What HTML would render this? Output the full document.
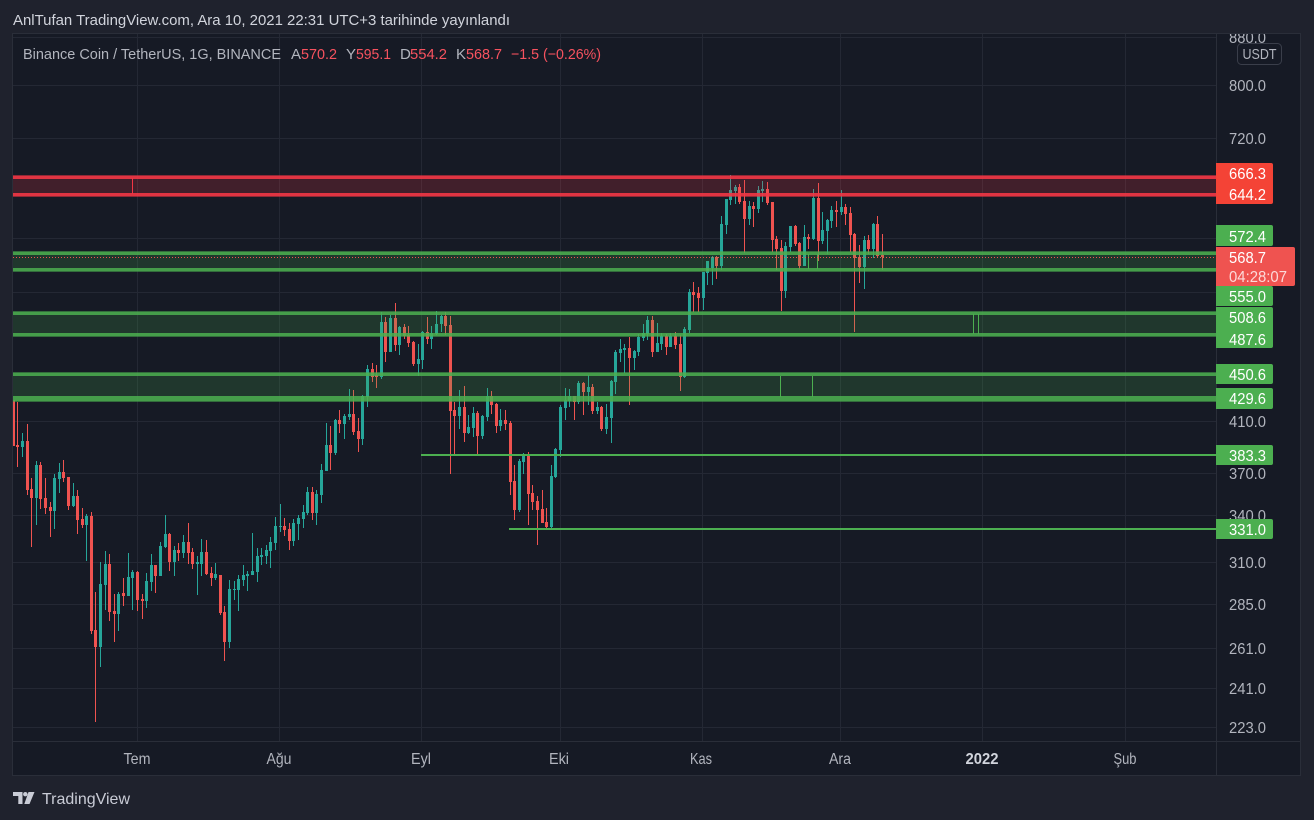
<!DOCTYPE html>
<html><head><meta charset="utf-8"><style>
html,body{margin:0;padding:0;background:#1f222d;width:1314px;height:820px;overflow:hidden}
svg{display:block}
text{font-family:"Liberation Sans",sans-serif}
</style></head><body>
<svg id="s" width="1314" height="820" viewBox="0 0 1314 820" xmlns="http://www.w3.org/2000/svg">
<defs>
<clipPath id="c"><rect x="13" y="34" width="1203" height="707"/></clipPath>
<clipPath id="ax"><rect x="1217" y="34" width="83" height="707"/></clipPath>
</defs>
<rect width="1314" height="820" fill="#1f222d"/>
<rect x="12" y="33" width="1289" height="743" fill="#161a25"/>
<g stroke="#242834" stroke-width="1" shape-rendering="crispEdges">
<path d="M13 37.5H1216M13 85.5H1216M13 138.5H1216M13 238.5H1216M13 292.5H1216M13 421.5H1216M13 473.5H1216M13 515.5H1216M13 562.5H1216M13 604.5H1216M13 648.5H1216M13 688.5H1216M13 727.5H1216"/>
<path d="M137.5 34V741M279.5 34V741M421.5 34V741M560.5 34V741M702.5 34V741M840.5 34V741M982.5 34V741M1125.5 34V741"/>
</g>
<g id="candles" clip-path="url(#c)" shape-rendering="crispEdges"></g>
<g clip-path="url(#c)" shape-rendering="crispEdges">
<!-- red band -->
<rect x="13" y="175" width="1203" height="22" fill="rgba(242,54,69,0.2)"/>
<rect x="13" y="175" width="1203" height="1" fill="rgba(242,54,69,0.45)"/>
<rect x="13" y="196" width="1203" height="1" fill="rgba(242,54,69,0.45)"/>
<rect x="13" y="176" width="1203" height="3" fill="#f23645" fill-opacity="0.9"/>
<rect x="13" y="193" width="1203" height="3" fill="#f23645" fill-opacity="0.9"/>
<rect x="132" y="178" width="1" height="16" fill="#f23645"/>
<!-- green band 1 -->
<rect x="13" y="251" width="1203" height="21" fill="rgba(76,175,80,0.2)"/>
<rect x="13" y="251" width="1203" height="1" fill="rgba(76,175,80,0.45)"/>
<rect x="13" y="271" width="1203" height="1" fill="rgba(76,175,80,0.45)"/>
<rect x="13" y="252" width="1203" height="3" fill="#4caf50" fill-opacity="0.85"/>
<rect x="13" y="268" width="1203" height="3" fill="#4caf50" fill-opacity="0.85"/>
<rect x="808" y="254" width="1" height="15" fill="#4caf50"/>
<rect x="817" y="254" width="1" height="15" fill="#4caf50"/>
<!-- green band 2 -->
<rect x="13" y="311" width="1203" height="26" fill="rgba(76,175,80,0.2)"/>
<rect x="13" y="311" width="1203" height="1" fill="rgba(76,175,80,0.45)"/>
<rect x="13" y="336" width="1203" height="1" fill="rgba(76,175,80,0.45)"/>
<rect x="13" y="312" width="1203" height="3" fill="#4caf50" fill-opacity="0.85"/>
<rect x="13" y="333" width="1203" height="3" fill="#4caf50" fill-opacity="0.85"/>
<rect x="973" y="314" width="1" height="20" fill="#4caf50"/>
<rect x="978" y="314" width="1" height="20" fill="#4caf50"/>
<!-- green band 3 -->
<rect x="13" y="372" width="1203" height="30" fill="rgba(76,175,80,0.2)"/>
<rect x="13" y="372" width="1203" height="1" fill="rgba(76,175,80,0.45)"/>
<rect x="13" y="401" width="1203" height="1" fill="rgba(76,175,80,0.45)"/>
<rect x="13" y="373" width="1203" height="3" fill="#4caf50" fill-opacity="0.85"/>
<rect x="13" y="396" width="1203" height="5" fill="#4caf50" fill-opacity="0.85"/>
<rect x="780" y="376" width="1" height="21" fill="#4caf50"/>
<rect x="812" y="376" width="1" height="21" fill="#4caf50"/>
<!-- horizontal lines -->
<rect x="421" y="454" width="795" height="2" fill="#4caf50"/>
<rect x="509" y="528" width="707" height="2" fill="#4caf50"/>
<line x1="13" y1="257.5" x2="1216" y2="257.5" stroke="#ef5350" stroke-width="1" stroke-dasharray="1 2"/>
</g>
<!-- borders -->
<g stroke="#2a2e39" stroke-width="1" fill="none" shape-rendering="crispEdges">
<rect x="12.5" y="33.5" width="1288" height="742"/>
<path d="M1216.5 33V776M12 741.5H1301"/>
</g>
<!-- price ticks -->
<g fill="#b2b5be" font-size="16" clip-path="url(#ax)">
<text x="1229" y="43" textLength="37" lengthAdjust="spacingAndGlyphs">880.0</text>
<text x="1229" y="91" textLength="37" lengthAdjust="spacingAndGlyphs">800.0</text>
<text x="1229" y="144" textLength="37" lengthAdjust="spacingAndGlyphs">720.0</text>
<text x="1229" y="427" textLength="37" lengthAdjust="spacingAndGlyphs">410.0</text>
<text x="1229" y="479" textLength="37" lengthAdjust="spacingAndGlyphs">370.0</text>
<text x="1229" y="521" textLength="37" lengthAdjust="spacingAndGlyphs">340.0</text>
<text x="1229" y="568" textLength="37" lengthAdjust="spacingAndGlyphs">310.0</text>
<text x="1229" y="610" textLength="37" lengthAdjust="spacingAndGlyphs">285.0</text>
<text x="1229" y="654" textLength="37" lengthAdjust="spacingAndGlyphs">261.0</text>
<text x="1229" y="694" textLength="37" lengthAdjust="spacingAndGlyphs">241.0</text>
<text x="1229" y="733" textLength="37" lengthAdjust="spacingAndGlyphs">223.0</text>
</g>
<rect x="1237.5" y="43.5" width="44" height="21" rx="4" fill="#161a25" stroke="#3a3e4a"/>
<text x="1259.5" y="59" fill="#b2b5be" font-size="15" text-anchor="middle" textLength="34" lengthAdjust="spacingAndGlyphs">USDT</text>
<!-- price labels -->
<g font-size="16" fill="#ffffff">
<path d="M1216 163h55a2 2 0 0 1 2 2v37a2 2 0 0 1-2 2h-55z" fill="#f44336"/>
<text x="1229" y="179" textLength="37" lengthAdjust="spacingAndGlyphs">666.3</text>
<text x="1229" y="200" textLength="37" lengthAdjust="spacingAndGlyphs">644.2</text>
<path d="M1216 225h55a2 2 0 0 1 2 2v17a2 2 0 0 1-2 2h-55z" fill="#4caf50"/>
<text x="1229" y="242" textLength="37" lengthAdjust="spacingAndGlyphs">572.4</text>
<path d="M1216 286h55a2 2 0 0 1 2 2v16a2 2 0 0 1-2 2h-55z" fill="#4caf50"/>
<text x="1229" y="302" textLength="37" lengthAdjust="spacingAndGlyphs">555.0</text>
<path d="M1216 247h77a2 2 0 0 1 2 2v35a2 2 0 0 1-2 2h-77z" fill="#ef5350"/>
<text x="1229" y="263" textLength="37" lengthAdjust="spacingAndGlyphs">568.7</text>
<text x="1229" y="282" textLength="58" lengthAdjust="spacingAndGlyphs" fill-opacity="0.78">04:28:07</text>
<path d="M1216 307h55a2 2 0 0 1 2 2v37a2 2 0 0 1-2 2h-55z" fill="#4caf50"/>
<text x="1229" y="323" textLength="37" lengthAdjust="spacingAndGlyphs">508.6</text>
<text x="1229" y="345" textLength="37" lengthAdjust="spacingAndGlyphs">487.6</text>
<path d="M1216 364h55a2 2 0 0 1 2 2v16a2 2 0 0 1-2 2h-55z" fill="#4caf50"/>
<text x="1229" y="380" textLength="37" lengthAdjust="spacingAndGlyphs">450.6</text>
<path d="M1216 388h55a2 2 0 0 1 2 2v17a2 2 0 0 1-2 2h-55z" fill="#4caf50"/>
<text x="1229" y="404" textLength="37" lengthAdjust="spacingAndGlyphs">429.6</text>
<path d="M1216 445h55a2 2 0 0 1 2 2v16a2 2 0 0 1-2 2h-55z" fill="#4caf50"/>
<text x="1229" y="461" textLength="37" lengthAdjust="spacingAndGlyphs">383.3</text>
<path d="M1216 519h55a2 2 0 0 1 2 2v16a2 2 0 0 1-2 2h-55z" fill="#4caf50"/>
<text x="1229" y="535" textLength="37" lengthAdjust="spacingAndGlyphs">331.0</text>
</g>
<!-- time axis -->
<g fill="#b2b5be" font-size="16" text-anchor="middle">
<text x="137" y="764" textLength="27" lengthAdjust="spacingAndGlyphs">Tem</text>
<text x="279" y="764" textLength="25" lengthAdjust="spacingAndGlyphs">Ağu</text>
<text x="421" y="764" textLength="20" lengthAdjust="spacingAndGlyphs">Eyl</text>
<text x="559" y="764" textLength="20" lengthAdjust="spacingAndGlyphs">Eki</text>
<text x="701" y="764" textLength="22" lengthAdjust="spacingAndGlyphs">Kas</text>
<text x="840" y="764" textLength="22" lengthAdjust="spacingAndGlyphs">Ara</text>
<text x="982" y="764" textLength="33" lengthAdjust="spacingAndGlyphs" font-weight="bold" fill="#d1d4dc">2022</text>
<text x="1125" y="764" textLength="23" lengthAdjust="spacingAndGlyphs">Şub</text>
</g>
<!-- header -->
<text x="13" y="25" fill="#d1d4dc" font-size="15" textLength="497" lengthAdjust="spacingAndGlyphs">AnlTufan TradingView.com, Ara 10, 2021 22:31 UTC+3 tarihinde yayınlandı</text>
<g font-size="15">
<text x="23" y="59" fill="#b2b5be" textLength="258" lengthAdjust="spacingAndGlyphs">Binance Coin / TetherUS, 1G, BINANCE</text>
<text x="291" y="59" fill="#b2b5be">A</text>
<text x="301" y="59" fill="#f7525f" textLength="36" lengthAdjust="spacingAndGlyphs">570.2</text>
<text x="346" y="59" fill="#b2b5be">Y</text>
<text x="356" y="59" fill="#f7525f" textLength="35" lengthAdjust="spacingAndGlyphs">595.1</text>
<text x="400" y="59" fill="#b2b5be">D</text>
<text x="410" y="59" fill="#f7525f" textLength="37" lengthAdjust="spacingAndGlyphs">554.2</text>
<text x="456" y="59" fill="#b2b5be">K</text>
<text x="466" y="59" fill="#f7525f" textLength="36" lengthAdjust="spacingAndGlyphs">568.7</text>
<text x="511" y="59" fill="#f7525f" textLength="90" lengthAdjust="spacingAndGlyphs">−1.5 (−0.26%)</text>
</g>
<!-- footer logo -->
<g fill="#c9ccd6">
<path d="M13 792h9.5v12h-4.2v-8h-5.3z"/>
<circle cx="25.3" cy="794.2" r="2.2"/>
<path d="M28.5 792h6l-5 12h-5.2z"/>
<text x="42" y="804" font-size="16" textLength="88" lengthAdjust="spacingAndGlyphs">TradingView</text>
</g>
</svg>
<script>
const D="r 400 446 400 446|r 445 447 402 467|g 441 447 433 457|r 441 490 424 495|r 489 498 478 547|g 465 498 461 525|r 465 499 462 509|r 498 508 478 514|r 507 511 502 537|g 478 511 474 529|g 472 479 463 493|r 472 478 460 482|r 477 506 477 510|g 496 506 483 507|r 496 520 490 534|r 519 525 508 528|g 516 525 514 561|r 516 631 512 634|r 630 647 592 722|g 584 647 562 667|g 564 585 551 610|r 564 612 554 621|r 611 614 594 642|g 594 614 592 631|r 593 596 578 606|g 577 596 553 596|g 572 578 570 610|r 572 600 571 611|r 599 601 594 619|g 581 601 573 608|g 565 582 554 591|r 565 576 565 593|g 546 576 542 576|g 534 547 515 548|r 534 562 533 571|g 550 562 546 576|r 550 553 543 561|g 542 553 535 558|r 542 553 523 564|r 552 564 548 569|g 562 564 556 595|g 552 564 539 576|r 552 574 540 575|r 573 578 567 586|g 574 578 563 580|r 575 613 575 615|r 612 642 606 661|g 589 642 580 648|g 589 590 581 600|g 579 590 575 611|g 575 580 565 586|g 574 576 571 591|g 571 575 533 575|g 556 572 548 582|g 555 557 548 565|g 550 556 545 564|g 542 551 537 568|g 526 543 517 550|g 526 527 504 532|r 526 530 518 536|r 529 541 523 550|g 523 541 519 546|g 518 524 515 540|g 512 519 505 528|g 492 513 487 515|r 492 513 487 520|g 494 513 490 525|g 470 495 464 503|g 445 471 423 471|r 445 453 426 470|g 420 453 419 455|r 420 424 410 433|g 416 424 414 439|g 414 417 389 420|r 414 432 390 435|r 431 439 418 452|g 396 439 395 445|g 369 397 365 407|r 369 377 363 382|r 375 377 365 388|g 322 377 312 379|r 322 352 317 362|g 318 352 315 352|r 318 345 303 351|g 327 345 326 355|r 327 336 324 339|r 335 343 326 347|r 342 364 341 366|g 359 364 344 376|g 332 360 331 369|r 332 339 317 344|g 333 339 326 349|g 324 334 311 335|g 316 324 315 332|r 316 326 312 335|r 325 411 316 474|r 410 416 402 456|g 407 416 390 429|r 407 433 386 442|g 427 433 415 434|g 413 428 407 437|r 413 436 411 454|g 416 436 415 439|g 396 417 388 421|r 396 405 391 414|r 404 426 403 433|g 420 426 409 431|r 420 424 410 430|r 423 482 421 495|r 481 510 465 520|g 461 510 459 512|g 455 462 453 474|r 455 494 452 525|r 493 502 485 510|r 501 510 496 545|r 509 523 490 523|r 522 527 508 530|g 476 527 465 528|g 449 477 448 478|g 407 450 405 457|g 400 408 388 420|g 396 401 389 407|r 396 402 396 420|g 383 402 381 404|r 383 392 382 415|g 387 392 375 405|r 387 411 384 414|g 407 411 402 414|r 407 429 406 431|g 417 429 404 434|g 381 418 380 443|g 352 382 350 394|g 349 353 339 362|g 348 350 344 373|r 348 358 337 405|g 351 358 350 370|g 337 352 334 356|g 333 338 324 341|g 320 334 316 340|r 320 352 316 357|g 343 352 323 352|g 336 344 333 350|r 336 347 334 355|g 336 347 333 347|r 336 345 332 349|r 344 377 335 391|g 329 377 327 378|g 292 330 289 333|r 292 295 282 312|r 293 298 287 312|g 272 298 272 310|g 261 273 261 285|g 257 268 256 285|r 257 266 256 279|g 224 266 216 270|g 199 225 199 234|g 190 200 175 205|g 187 191 185 204|r 187 202 184 204|r 201 219 180 253|g 206 219 201 225|r 206 209 202 227|g 190 209 186 213|g 189 191 181 202|r 189 203 182 205|r 202 240 202 252|r 239 249 236 270|r 248 291 240 311|g 246 291 242 298|g 226 247 226 252|r 226 244 225 246|r 243 266 242 270|g 237 266 225 266|r 237 239 234 249|g 198 239 189 240|r 198 241 183 261|g 230 241 212 244|g 220 231 219 254|g 210 221 206 228|r 210 212 201 227|g 207 212 190 215|r 207 214 204 225|r 213 235 207 252|r 234 258 233 332|r 257 267 245 283|g 240 267 236 289|r 240 249 235 254|g 224 249 223 258|r 224 256 216 257|r 255 257 234 270";
(function(){
  var NS="http://www.w3.org/2000/svg";
  var g=document.getElementById("candles");
  D.split("|").forEach(function(s,k){
    var p=s.split(" "),i=k-1;
    var x=Math.round(17.3+4.6*i);
    var col=p[0]==="g"?"#26a69a":"#ef5350";
    var bt=+p[1],bb=+p[2],wt=+p[3],wb=+p[4];
    var w=document.createElementNS(NS,"rect");
    w.setAttribute("x",x);w.setAttribute("y",wt);w.setAttribute("width",1);w.setAttribute("height",Math.max(1,wb-wt));w.setAttribute("fill",col);
    g.appendChild(w);
    var b=document.createElementNS(NS,"rect");
    b.setAttribute("x",x-1);b.setAttribute("y",bt);b.setAttribute("width",3);b.setAttribute("height",Math.max(1,bb-bt));b.setAttribute("fill",col);
    g.appendChild(b);
  });
})();
</script>
</body></html>
